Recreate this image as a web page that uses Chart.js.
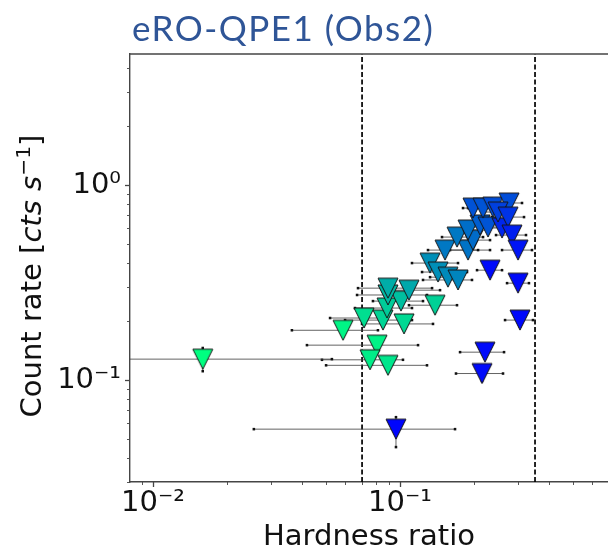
<!DOCTYPE html>
<html>
<head>
<meta charset="utf-8">
<script src="https://cdn.jsdelivr.net/npm/chart.js@4/dist/chart.umd.min.js"></script>
<style>
  html, body { margin: 0; padding: 0; background: #fff; overflow: hidden; }
  #wrap { position: relative; width: 608px; height: 550px; overflow: hidden; }
  #c { position: absolute; left: 0; top: 0; }
  #title {
    position: absolute; left: 132px; top: 5px;
    font-family: Lato, "Open Sans", sans-serif; font-size: 35px; line-height: 44px;
    letter-spacing: 1.5px; color: #2F5597; white-space: nowrap;
  }
  #ylab {
    position: absolute; left: -119px; top: 259px; width: 300px; height: 34px;
    line-height: 34px; text-align: center; white-space: nowrap;
    font-family: "DejaVu Sans", sans-serif; font-size: 29px; color: #111;
    transform: rotate(-90deg); transform-origin: 150px 17px;
  }
  #ylab .sup { font-size: 70%; position: relative; top: -0.55em; }
</style>
</head>
<body>
<div id="wrap">
  <canvas id="c" width="608" height="550"></canvas>
  <div id="title">eRO-QPE1 (Obs2)</div>
  <div id="ylab">Count rate [<i>cts s</i><span class="sup">−1</span>]</div>
</div>
<script>
// Hardness ratio and count rate of each snapshot, with error-bar ends
const hardness   = [0.0159, 0.0588, 0.0807, 0.0756, 0.0894, 0.0963, 0.0715, 0.0853, 0.1038, 0.0886,
                    0.1009, 0.0894, 0.0894, 0.1087, 0.1386, 0.1323, 0.1425, 0.1564, 0.1717, 0.1521,
                    0.1885, 0.1701, 0.1974, 0.1885, 0.2108, 0.2271, 0.2588, 0.1974, 0.2168, 0.2376,
                    0.2762, 0.2493, 0.2737, 0.2840, 0.3004, 0.2314, 0.3004, 0.3060, 0.2208, 0.2148];
const hardnessLo = [0.0040, 0.0365, 0.0420, 0.0483, 0.0502, 0.0256, 0.0521, 0.0599, 0.0702, 0.0657,
                    0.0777, 0.0670, 0.0676, 0.0869, 0.1087, 0.1118, 0.1228, 0.1323, 0.1239, 0.1298,
                    0.1594, 0.1479, 0.1670, 0.1594, 0.1782, 0.1920, 0.2208, 0.1799, 0.1885, 0.2070,
                    0.2358, 0.2148, 0.2358, 0.2447, 0.2588, 0.2050, 0.2712, 0.2662, 0.1750, 0.1685];
const hardnessHi = [0.0530, 0.0814, 0.1183, 0.1028, 0.1286, 0.1670, 0.0830, 0.1118, 0.1360, 0.1118,
                    0.1239, 0.1286, 0.1348, 0.1452, 0.1701, 0.1717, 0.1867, 0.1782, 0.1956, 0.2070,
                    0.2314, 0.2168, 0.2314, 0.2271, 0.2493, 0.2662, 0.3004, 0.2314, 0.2541, 0.2788,
                    0.3118, 0.2894, 0.3177, 0.3236, 0.3422, 0.2588, 0.3327, 0.3453, 0.2637, 0.2612];
const rate       = [0.128, 0.180, 0.151, 0.127, 0.119, 0.056, 0.208, 0.203, 0.194, 0.234,
                    0.254, 0.273, 0.296, 0.289, 0.242, 0.398, 0.358, 0.337, 0.326, 0.464,
                    0.464, 0.541, 0.522, 0.588, 0.624, 0.609, 0.602, 0.762, 0.762, 0.771,
                    0.809, 0.727, 0.685, 0.554, 0.464, 0.366, 0.314, 0.203, 0.139, 0.108];
const rateLo     = [0.111, 0.168, 0.141, 0.118, 0.111, 0.0453, 0.194, 0.189, 0.181, 0.218,
                    0.237, 0.255, 0.277, 0.270, 0.226, 0.375, 0.337, 0.317, 0.307, 0.438,
                    0.438, 0.512, 0.493, 0.557, 0.592, 0.577, 0.570, 0.725, 0.725, 0.733,
                    0.770, 0.690, 0.650, 0.524, 0.438, 0.344, 0.294, 0.188, 0.129, 0.099];
const rateHi     = [0.146, 0.192, 0.162, 0.137, 0.128, 0.0645, 0.223, 0.218, 0.208, 0.251,
                    0.272, 0.292, 0.317, 0.310, 0.259, 0.422, 0.380, 0.358, 0.346, 0.491,
                    0.491, 0.571, 0.552, 0.620, 0.657, 0.642, 0.635, 0.800, 0.800, 0.810,
                    0.849, 0.765, 0.721, 0.585, 0.491, 0.389, 0.335, 0.219, 0.150, 0.118];
// position on the colour scale: 0 = blue end, 1 = green end
const colourIndex = [1.00, 0.96, 0.95, 0.93, 0.90, 0.02, 0.87, 0.83, 0.85, 0.80,
                     0.75, 0.72, 0.68, 0.66, 0.82, 0.56, 0.56, 0.54, 0.52, 0.47,
                     0.45, 0.47, 0.42, 0.43, 0.37, 0.33, 0.15, 0.32, 0.33, 0.30,
                     0.30, 0.25, 0.20, 0.12, 0.08, 0.04, 0.04, 0.03, 0.04, 0.04];
// vertical reference lines
const boundaries = [0.0702, 0.352];
// axis limits and decade labels
const xMin = 0.00807, xMax = 0.695;
const yMin = 0.030, yMax = 4.70;
const xTickLabels = {'-2': '10⁻²', '-1': '10⁻¹', '0': '10⁰'};
const yTickLabels = {'-1': '10⁻¹', '0': '10⁰'};

const axisColour = '#454545';
const tickFont = {family: 'DejaVu Sans', size: 29};
const plotRight = 608;

function winter(t) {
  return 'rgb(0,' + Math.round(255 * t) + ',' + Math.round(255 * (1 - 0.5 * t)) + ')';
}

// downward triangle marker, centred on its bounding box
const markerCache = {};
function marker(t) {
  const key = t.toFixed(3);
  if (markerCache[key]) return markerCache[key];
  const cv = document.createElement('canvas');
  cv.width = 24; cv.height = 24;
  const g = cv.getContext('2d');
  g.beginPath();
  g.moveTo(2, 2); g.lineTo(22, 2); g.lineTo(12, 22); g.closePath();
  g.fillStyle = winter(t); g.fill();
  g.lineWidth = 1; g.strokeStyle = '#151515'; g.lineJoin = 'miter'; g.stroke();
  markerCache[key] = cv;
  return cv;
}

function decadeLabel(map) {
  return function (value) {
    const e = Math.log10(value);
    const r = Math.round(e);
    if (Math.abs(e - r) < 1e-9 && map[String(r)] !== undefined) return map[String(r)];
    return '';
  };
}

function niceSignificand(v) {
  const p = Math.pow(10, Math.floor(Math.log10(v) + 1e-9));
  const m = v / p, r = Math.round(m);
  return (Math.abs(m - r) < 1e-6 && r >= 1 && r <= 9) ? r : 0;
}

// outward major/minor tick marks and the top spine
const frameAndTicks = {
  id: 'frameAndTicks',
  afterDraw(chart) {
    const {ctx, chartArea: a, scales: {x, y}} = chart;
    ctx.save();
    ctx.strokeStyle = axisColour;
    ctx.lineWidth = 1.4;
    ctx.beginPath(); ctx.moveTo(a.left, a.top); ctx.lineTo(a.right, a.top); ctx.stroke();
    x.ticks.forEach(t => {
      const r = niceSignificand(t.value);
      if (!r) return;
      const px = Math.round(x.getPixelForValue(t.value)) + 0.5;
      if (px < a.left - 1 || px > a.right + 1) return;
      const len = r === 1 ? 5 : 3;
      ctx.lineWidth = r === 1 ? 1.3 : 0.9;
      ctx.beginPath(); ctx.moveTo(px, a.bottom); ctx.lineTo(px, a.bottom + len); ctx.stroke();
    });
    y.ticks.forEach(t => {
      const r = niceSignificand(t.value);
      if (!r) return;
      const py = Math.round(y.getPixelForValue(t.value)) + 0.5;
      if (py < a.top - 1 || py > a.bottom + 1) return;
      const len = r === 1 ? 5 : 3;
      ctx.lineWidth = r === 1 ? 1.3 : 0.9;
      ctx.beginPath(); ctx.moveTo(a.left, py); ctx.lineTo(a.left - len, py); ctx.stroke();
    });
    ctx.restore();
  }
};

const datasets = [];

boundaries.forEach(b => {
  datasets.push({
    type: 'line',
    data: [{x: b, y: yMin}, {x: b, y: yMax}],
    borderColor: '#000', borderWidth: 1.7, borderDash: [5, 2.5],
    pointRadius: 0, order: 20
  });
});

hardness.forEach((h, i) => {
  const bar = {
    type: 'line',
    borderColor: 'rgba(60,60,60,0.8)', borderWidth: 1,
    pointStyle: 'rect', pointRadius: 1.8, pointBorderWidth: 0,
    pointBackgroundColor: '#111', order: 10
  };
  datasets.push(Object.assign({}, bar, {
    data: [{x: hardnessLo[i], y: rate[i]}, {x: hardnessHi[i], y: rate[i]}]
  }));
  datasets.push(Object.assign({}, bar, {
    data: [{x: h, y: rateLo[i]}, {x: h, y: rateHi[i]}]
  }));
});

datasets.push({
  type: 'scatter',
  data: hardness.map((h, i) => ({x: h, y: rate[i]})),
  pointStyle: ctx => marker(colourIndex[ctx.dataIndex]),
  pointRadius: 11,
  order: 1
});

const chart = new Chart(document.getElementById('c'), {
  data: {datasets},
  options: {
    responsive: false,
    maintainAspectRatio: false,
    animation: false,
    layout: {padding: {top: 54, left: 0, right: 0, bottom: 0}},
    plugins: {legend: {display: false}, tooltip: {enabled: false}},
    scales: {
      x: {
        type: 'logarithmic', position: 'bottom', min: xMin, max: xMax,
        grid: {display: false, drawTicks: false},
        border: {display: true, color: axisColour, width: 1.4},
        ticks: {autoSkip: false, maxRotation: 0, padding: 4, font: tickFont, color: '#111',
                callback: decadeLabel(xTickLabels)},
        title: {display: true, text: 'Hardness ratio', font: tickFont, color: '#111',
                padding: {top: 0, bottom: -5}},
        afterFit: s => { s.height = 68; }
      },
      y: {
        type: 'logarithmic', position: 'left', min: yMin, max: yMax,
        grid: {display: false, drawTicks: false},
        border: {display: true, color: axisColour, width: 1.4},
        ticks: {autoSkip: false, padding: 9, font: tickFont, color: '#111',
                callback: decadeLabel(yTickLabels)},
        afterFit: s => { s.width = 130; }
      }
    }
  },
  plugins: [frameAndTicks]
});

// the plot runs off the right edge of the page: widen the canvas until the
// plotting area ends exactly there (the wrapper hides the overflow)
const excess = plotRight - chart.chartArea.right;
if (Math.abs(excess) > 0.5) {
  chart.resize(chart.width + Math.round(excess), 550);
}
</script>
</body>
</html>
